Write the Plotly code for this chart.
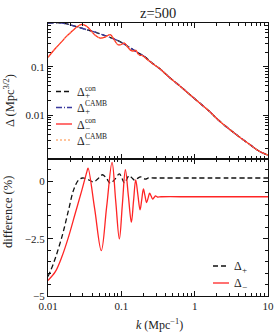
import plotly.graph_objects as go

# ---------------- data ----------------
k_plus = [0.01, 0.012, 0.014, 0.0172, 0.0212, 0.0262, 0.033, 0.044, 0.055, 0.0747,
          0.1, 0.126, 0.16, 0.212, 0.249, 0.307, 0.35, 0.467, 0.6, 0.873,
          1.2, 1.64, 2.2, 3.07, 4.2, 5.75, 7.5, 10.0]
delta_plus_con = [0.80, 0.812, 0.812, 0.78, 0.72, 0.655, 0.59, 0.52, 0.46, 0.39,
                  0.32, 0.258, 0.205, 0.158, 0.127, 0.100, 0.086, 0.0575, 0.0425, 0.0259,
                  0.0172, 0.01137, 0.0074, 0.0049, 0.0034, 0.0024, 0.0018, 0.00148]
delta_plus_camb = [0.80, 0.812, 0.812, 0.78, 0.72, 0.655, 0.59, 0.52, 0.46, 0.39,
                   0.32, 0.258, 0.205, 0.158, 0.127, 0.100, 0.086, 0.0575, 0.0425, 0.0259,
                   0.0172, 0.01137, 0.0074, 0.0049, 0.0034, 0.0024, 0.0018, 0.00148]

k_minus = [0.01, 0.0125, 0.0155, 0.018, 0.0212, 0.025, 0.029, 0.0325, 0.0358, 0.044,
           0.0517, 0.06, 0.0707, 0.08, 0.0898, 0.1, 0.110, 0.122, 0.137, 0.148,
           0.158, 0.17, 0.18, 0.195, 0.21, 0.23, 0.25, 0.28, 0.307, 0.35,
           0.467, 0.6, 0.873, 1.2, 1.64, 2.2, 3.07, 4.2, 5.75, 7.5, 10.0]
delta_minus_con = [0.156, 0.235, 0.335, 0.43, 0.54, 0.67, 0.75, 0.71, 0.634, 0.447,
                   0.39, 0.41, 0.46, 0.36, 0.285, 0.29, 0.309, 0.255, 0.215, 0.212,
                   0.218, 0.182, 0.172, 0.17, 0.155, 0.138, 0.126, 0.11, 0.100, 0.086,
                   0.0575, 0.0425, 0.0259, 0.0172, 0.01137, 0.0074, 0.0049, 0.0034, 0.0024, 0.0018, 0.00148]
delta_minus_camb = [0.156, 0.235, 0.335, 0.43, 0.54, 0.67, 0.75, 0.71, 0.634, 0.447,
                    0.39, 0.41, 0.46, 0.36, 0.285, 0.29, 0.309, 0.255, 0.215, 0.212,
                    0.218, 0.182, 0.172, 0.17, 0.155, 0.138, 0.126, 0.11, 0.100, 0.086,
                    0.0575, 0.0425, 0.0259, 0.0172, 0.01137, 0.0074, 0.0049, 0.0034, 0.0024, 0.0018, 0.00148]

k_diff_plus = [0.01, 0.0119, 0.0155, 0.0191, 0.0224, 0.0262, 0.0297, 0.0358, 0.042, 0.048,
               0.0555, 0.063, 0.0707, 0.082, 0.094, 0.102, 0.110, 0.118, 0.127, 0.14,
               0.152, 0.166, 0.182, 0.197, 0.213, 0.235, 0.28, 1.0, 10.0]
diff_plus = [-4.15, -3.57, -2.41, -1.24, -0.36, 0.07, 0.15, 0.07, -0.02, 0.12,
             0.29, 0.12, -0.08, 0.10, 0.33, 0.14, -0.07, 0.08, 0.25, 0.15,
             0.05, 0.13, 0.20, 0.15, 0.10, 0.15, 0.15, 0.15, 0.15]

k_diff_minus = [0.01, 0.0126, 0.0155, 0.0191, 0.0236, 0.0291, 0.034, 0.0352, 0.0433, 0.0533,
                0.0631, 0.0747, 0.0838, 0.094, 0.1033, 0.1135, 0.1247, 0.137, 0.1467, 0.157,
                0.168, 0.18, 0.19, 0.2, 0.21, 0.221, 0.232, 0.243, 0.255, 0.267,
                0.28, 0.293, 0.31, 0.35, 1.0, 10.0]
diff_minus = [-4.32, -3.94, -3.28, -2.41, -1.38, -0.36, 0.44, 0.58, -1.2, -3.02,
              -1.1, 0.83, -0.85, -2.51, -1.0, 0.51, -0.63, -1.78, -0.85, 0.07,
              -0.58, -1.24, -0.78, -0.33, -0.62, -0.92, -0.72, -0.51, -0.64, -0.77,
              -0.70, -0.63, -0.68, -0.67, -0.67, -0.67]

x_tick_vals = [0.01, 0.1, 1, 10]
x_tick_text = ["0.01", "0.1", "1", "10"]
top_tick_vals = [0.01, 0.1]
top_tick_text = ["0.01", "0.1"]
bot_tick_vals = [-5, -2.5, 0]
bot_tick_text = ["\u22125", "\u22122.5", "0"]

# ---------------- styling ----------------
FONT = "Liberation Serif, Times New Roman, DejaVu Serif, serif"
TXT = "#222222"
BLACK = "#111111"
BLUE = "#3a3a9e"
RED = "#ff2525"
ORANGE = "#ff8a3a"

W, H = 274, 333
L, R, T, B = 48, 6, 23, 37
split = (296 - 158.5) / (H - T - B)


def px(x):
    return (x - L) / (W - L - R)


def py(y):
    return (H - B - y) / (H - T - B)


fig = go.Figure()

line_kw = dict(mode="lines", line_shape="spline", hoverinfo="skip", showlegend=False)
fig.add_trace(go.Scatter(x=k_plus, y=delta_plus_con, xaxis="x", yaxis="y",
                         line=dict(color=BLACK, width=1.3, dash="5px,3px"), **line_kw))
fig.add_trace(go.Scatter(x=k_plus, y=delta_plus_camb, xaxis="x", yaxis="y",
                         line=dict(color=BLUE, width=1.4, dash="6px,2px,1px,2px"), **line_kw))
fig.add_trace(go.Scatter(x=k_minus, y=delta_minus_con, xaxis="x", yaxis="y",
                         line=dict(color=RED, width=1.3), **line_kw))
fig.add_trace(go.Scatter(x=k_minus, y=delta_minus_camb, xaxis="x", yaxis="y",
                         line=dict(color=ORANGE, width=1.0, dash="2px,2px"), **line_kw))

fig.add_trace(go.Scatter(x=k_diff_plus, y=diff_plus, xaxis="x2", yaxis="y2",
                         line=dict(color=BLACK, width=1.3, dash="5px,3px"), **line_kw))
fig.add_trace(go.Scatter(x=k_diff_minus, y=diff_minus, xaxis="x2", yaxis="y2",
                         line=dict(color=RED, width=1.3), **line_kw))

log_minor = [m * 10 ** e for e in (-2, -1, 0) for m in range(2, 10)]
y_minor = [m * 10 ** e for e in (-3, -2, -1) for m in range(2, 10)]

axis_common = dict(showline=True, linecolor=BLACK, linewidth=1, mirror="allticks",
                   ticks="inside", ticklen=5, tickcolor=BLACK, tickwidth=1,
                   showgrid=False, zeroline=False,
                   tickfont=dict(family=FONT, size=11, color=TXT))

fig.update_layout(
    width=W, height=H,
    margin=dict(l=L, r=R, t=T, b=B, autoexpand=False),
    paper_bgcolor="white", plot_bgcolor="white",
    xaxis=dict(type="log", range=[-2, 1], domain=[0, 1], anchor="y",
               tickvals=x_tick_vals, ticktext=x_tick_text, showticklabels=False,
               minor=dict(tickmode="array", tickvals=log_minor, ticks="inside",
                          ticklen=3, tickcolor=BLACK, showgrid=False),
               **axis_common),
    yaxis=dict(type="log", range=[-2.9, -0.095], domain=[split, 1], anchor="x",
               tickvals=top_tick_vals, ticktext=top_tick_text,
               minor=dict(tickmode="array", tickvals=y_minor, ticks="inside",
                          ticklen=3, tickcolor=BLACK, showgrid=False),
               **axis_common),
    xaxis2=dict(type="log", range=[-2, 1], domain=[0, 1], anchor="y2",
                tickvals=x_tick_vals, ticktext=x_tick_text,
                minor=dict(tickmode="array", tickvals=log_minor, ticks="inside",
                           ticklen=3, tickcolor=BLACK, showgrid=False),
                **axis_common),
    yaxis2=dict(range=[-5, 1], domain=[0, split], anchor="x2",
                tickvals=bot_tick_vals, ticktext=bot_tick_text,
                minor=dict(dtick=0.5, tick0=0, ticks="inside", ticklen=3,
                           tickcolor=BLACK, showgrid=False),
                **axis_common),
)

ann = []


def text(x, y, s, size, xanchor="left", yanchor="middle", angle=0):
    ann.append(dict(x=px(x), y=py(y), xref="paper", yref="paper", text=s,
                    showarrow=False, xanchor=xanchor, yanchor=yanchor, textangle=angle,
                    borderpad=0, font=dict(family=FONT, size=size, color=TXT)))


# title and axis titles
text(158, 13, "z=500", 14.5, xanchor="center")
text(9, 101, "\u0394 (Mpc<sup>3/2</sup>)", 12.5, xanchor="center", angle=-90)
text(8, 212, "difference (%)", 12.5, xanchor="center", angle=-90)
text(159, 324, "<i>k</i> (Mpc<sup>\u22121</sup>)", 12, xanchor="center")

shapes = []


def sample(x0, x1, y, color, dash, width):
    shapes.append(dict(type="line", xref="paper", yref="paper",
                       x0=px(x0), x1=px(x1), y0=py(y), y1=py(y),
                       line=dict(color=color, width=width, dash=dash)))


# top legend
leg_top = [
    (91.5, BLACK, "5px,3px", 1.3, "con", "+"),
    (107.5, BLUE, "6px,2px,1px,2px", 1.4, "CAMB", "+"),
    (124, RED, "solid", 1.3, "con", "\u2212"),
    (140, ORANGE, "2px,2px", 1.0, "CAMB", "\u2212"),
]
for yy, c, d, w, sup, sub in leg_top:
    sample(56, 72, yy, c, d, w)
    text(76, yy + 0.5, "\u0394", 12)
    text(84, yy - 3.5, sup, 7.5)
    text(84, yy + 4, sub, 9)

# bottom legend
leg_bot = [
    (266, BLACK, "5px,3px", 1.3, "+"),
    (283, RED, "solid", 1.3, "\u2212"),
]
for yy, c, d, w, sub in leg_bot:
    sample(213, 229, yy, c, d, w)
    text(233, yy, "\u0394", 12)
    text(241, yy + 3.5, sub, 9)

fig.update_layout(annotations=ann, shapes=shapes)
fig.write_html("out.html", config={"displayModeBar": False},
               post_script="document.body.style.margin='0px';")
